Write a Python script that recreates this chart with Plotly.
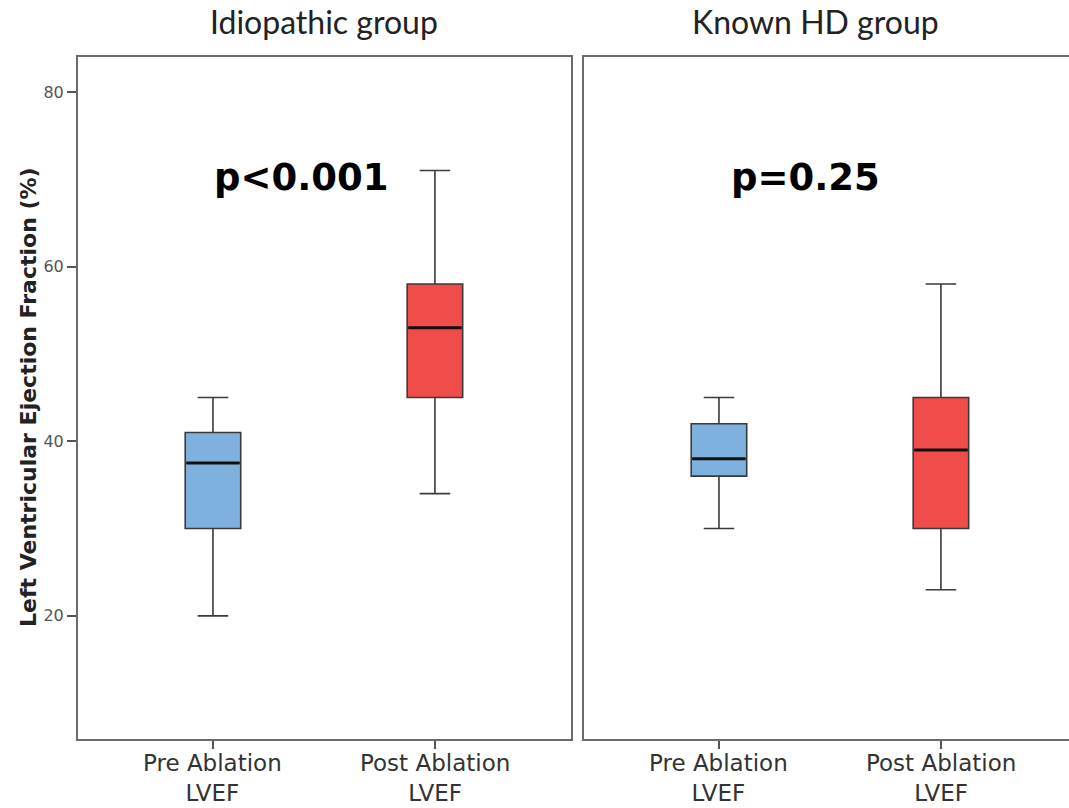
import plotly.graph_objects as go

# ---- data ----
categories = ["Pre Ablation<br>LVEF", "Post Ablation<br>LVEF"]
groups = ["Idiopathic group", "Known HD group"]
p_values = ["p<0.001", "p=0.25"]

idio_lower = [20, 34]
idio_q1 = [30, 45]
idio_median = [37.5, 53]
idio_q3 = [41, 58]
idio_upper = [45, 71]

hd_lower = [30, 23]
hd_q1 = [36, 30]
hd_median = [38, 39]
hd_q3 = [42, 45]
hd_upper = [45, 58]

colors = ["#7fb1de", "#f04c49"]
outline = "#3a3a3a"
box_w = 0.25

W, H = 1069, 808
ml, mr, mt, mb = 78, 0, 57, 69
pw = W - ml - mr
ph = H - mt - mb

fig = go.Figure()

panels = [
    (idio_lower, idio_q1, idio_median, idio_q3, idio_upper, "x", "y"),
    (hd_lower, hd_q1, hd_median, hd_q3, hd_upper, "x2", "y2"),
]
for lo, q1, med, q3, up, xa, ya in panels:
    for i in range(len(categories)):
        fig.add_trace(go.Box(
            x=[i], q1=[q1[i]], median=[med[i]], q3=[q3[i]],
            lowerfence=[lo[i]], upperfence=[up[i]],
            width=box_w, whiskerwidth=0.55,
            fillcolor=colors[i], line=dict(color=outline, width=1.6),
            boxpoints=False, showlegend=False, hoverinfo="skip",
            xaxis=xa, yaxis=ya,
        ))
        # thicker median line
        fig.add_trace(go.Scatter(
            x=[i - box_w / 2 + 0.005, i + box_w / 2 - 0.005], y=[med[i], med[i]],
            mode="lines", line=dict(color="#111111", width=3),
            showlegend=False, hoverinfo="skip", xaxis=xa, yaxis=ya,
        ))

d1 = [0, 493 / pw]
d2 = [506 / pw, 1]
yr = [5.9, 84.0]

common_x = dict(
    tickvals=[0, 1], showticklabels=False,
    ticks="outside", ticklen=8, tickcolor="#555555", tickwidth=1.5,
    showgrid=False, zeroline=False, showline=True, linecolor="#6b6b6b",
    linewidth=2, mirror=True, fixedrange=True, automargin=False,
)
fig.update_layout(
    width=W, height=H,
    margin=dict(l=ml, r=mr, t=mt, b=mb),
    paper_bgcolor="white", plot_bgcolor="white",
    xaxis=dict(domain=d1, range=[-0.608, 1.613], anchor="y", **common_x),
    xaxis2=dict(domain=d2, range=[-0.608, 1.577], anchor="y2", **common_x),
    yaxis=dict(
        domain=[0, 1], range=yr, tickvals=[20, 40, 60, 80],
        tickfont=dict(family="DejaVu Sans", size=16, color="#555555"),
        ticks="outside", ticklen=9, tickcolor="#555555", tickwidth=1.5,
        showgrid=False, zeroline=False, showline=True, linecolor="#6b6b6b",
        linewidth=2, mirror=True, automargin=False,
    ),
    yaxis2=dict(
        domain=[0, 1], range=yr, anchor="x2", showticklabels=False,
        ticks="", showgrid=False, zeroline=False, showline=True,
        linecolor="#6b6b6b", linewidth=2, mirror=False,
    ),
)

def py(pix):
    return (H - mb - pix) / ph
def px(pix):
    return (pix - ml) / pw

annotations = [
    dict(text=groups[0], x=px(324), y=py(21), xref="paper", yref="paper",
         showarrow=False, font=dict(family="Lato", size=32, color="#222222"),
         xanchor="center", yanchor="middle"),
    dict(text=groups[1], x=px(815), y=py(21), xref="paper", yref="paper",
         showarrow=False, font=dict(family="Lato", size=32, color="#222222"),
         xanchor="center", yanchor="middle"),
    dict(text="<b>" + p_values[0] + "</b>", x=px(301), y=py(178), xref="paper",
         yref="paper", showarrow=False,
         font=dict(family="DejaVu Sans", size=37, color="#000000"),
         xanchor="center", yanchor="middle"),
    dict(text="<b>" + p_values[1] + "</b>", x=px(805), y=py(178), xref="paper",
         yref="paper", showarrow=False,
         font=dict(family="DejaVu Sans", size=37, color="#000000"),
         xanchor="center", yanchor="middle"),
    dict(text="<b>Left Ventricular Ejection Fraction (%)</b>", x=px(28),
         y=py(397), xref="paper", yref="paper", showarrow=False, textangle=-90,
         font=dict(family="DejaVu Sans", size=22, color="#222222"),
         xanchor="center", yanchor="middle"),
]

# category labels (two lines each) under both panels
for xa in ["x", "x2"]:
    for i, cat in enumerate(categories):
        annotations.append(dict(
            text=cat, x=i, xref=xa, y=py(778), yref="paper",
            showarrow=False, xanchor="center", yanchor="middle",
            font=dict(family="DejaVu Sans", size=23, color="#333333"),
        ))

fig.update_layout(annotations=annotations)

fig.write_html("out.html")
